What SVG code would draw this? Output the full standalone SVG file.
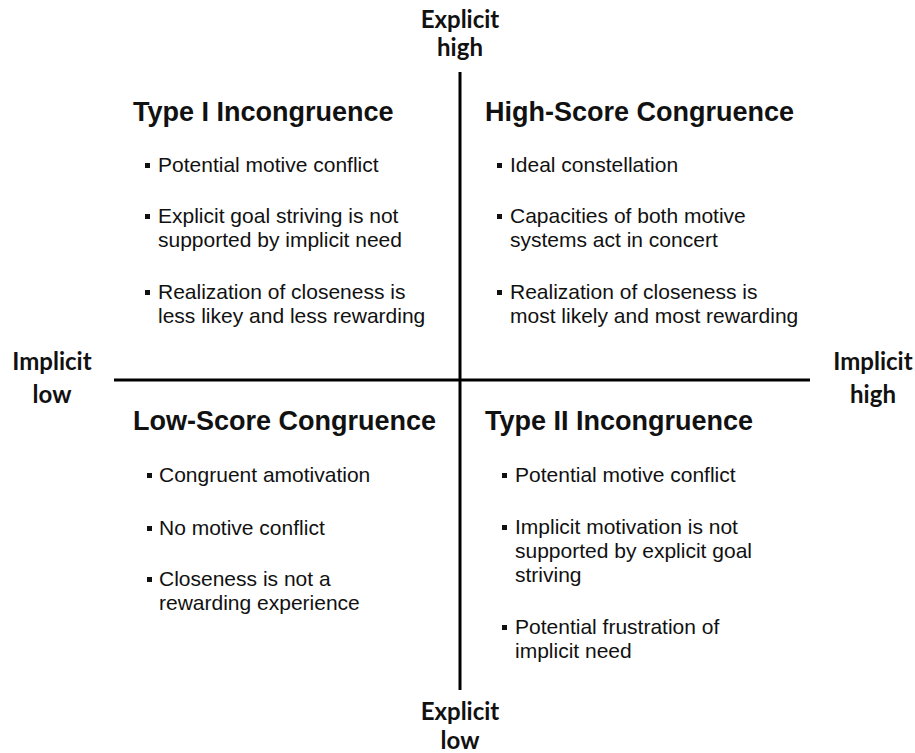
<svg xmlns="http://www.w3.org/2000/svg" width="915" height="753" viewBox="0 0 915 753">
<style>
.axis{stroke:#000;stroke-width:3;fill:none}
.lbl{font-family:Lato,"Open Sans",sans-serif;font-weight:700;font-size:24px;fill:#111;text-anchor:middle}
.ttl{font-family:"Liberation Sans",Arial,sans-serif;font-weight:700;font-size:27px;fill:#111}
.txt{font-family:"Liberation Sans",Arial,sans-serif;font-size:21px;fill:#111}
.bul{fill:#111}
</style>
<rect width="915" height="753" fill="#fff"/>
<!-- axes -->
<g id="axes">
<line class="axis" x1="460" y1="72" x2="460" y2="690"/>
<line class="axis" x1="114" y1="380" x2="810" y2="380"/>
</g>
<!-- axis labels -->
<g id="label-explicit-high"><text class="lbl" x="460" y="28">Explicit</text><text class="lbl" x="460" y="56">high</text></g>
<g id="label-explicit-low"><text class="lbl" x="460" y="720">Explicit</text><text class="lbl" x="460" y="749">low</text></g>
<g id="label-implicit-low"><text class="lbl" x="52" y="370">Implicit</text><text class="lbl" x="52" y="403">low</text></g>
<g id="label-implicit-high"><text class="lbl" x="873" y="370">Implicit</text><text class="lbl" x="873" y="403">high</text></g>

<!-- top-left quadrant -->
<g id="type1">
<text class="ttl" x="133" y="121">Type I Incongruence</text>
<rect class="bul" x="145" y="163" width="5" height="5"/>
<text class="txt" x="158" y="172">Potential motive conflict</text>
<rect class="bul" x="145" y="214" width="5" height="5"/>
<text class="txt" x="158" y="223">Explicit goal striving is not</text>
<text class="txt" x="158" y="247">supported by implicit need</text>
<rect class="bul" x="145" y="290" width="5" height="5"/>
<text class="txt" x="158" y="299">Realization of closeness is</text>
<text class="txt" x="158" y="323">less likey and less rewarding</text>
</g>

<!-- top-right quadrant -->
<g id="high-score">
<text class="ttl" x="485" y="121">High-Score Congruence</text>
<rect class="bul" x="497" y="163" width="5" height="5"/>
<text class="txt" x="510" y="172">Ideal constellation</text>
<rect class="bul" x="497" y="214" width="5" height="5"/>
<text class="txt" x="510" y="223">Capacities of both motive</text>
<text class="txt" x="510" y="247">systems act in concert</text>
<rect class="bul" x="497" y="290" width="5" height="5"/>
<text class="txt" x="510" y="299">Realization of closeness is</text>
<text class="txt" x="510" y="323">most likely and most rewarding</text>
</g>

<!-- bottom-left quadrant -->
<g id="low-score">
<text class="ttl" x="133" y="430">Low-Score Congruence</text>
<rect class="bul" x="147" y="473" width="5" height="5"/>
<text class="txt" x="159" y="482">Congruent amotivation</text>
<rect class="bul" x="147" y="526" width="5" height="5"/>
<text class="txt" x="159" y="535">No motive conflict</text>
<rect class="bul" x="147" y="577" width="5" height="5"/>
<text class="txt" x="159" y="586">Closeness is not a</text>
<text class="txt" x="159" y="610">rewarding experience</text>
</g>

<!-- bottom-right quadrant -->
<g id="type2">
<text class="ttl" x="485" y="430">Type II Incongruence</text>
<rect class="bul" x="502" y="473" width="5" height="5"/>
<text class="txt" x="515" y="482">Potential motive conflict</text>
<rect class="bul" x="502" y="525" width="5" height="5"/>
<text class="txt" x="515" y="534">Implicit motivation is not</text>
<text class="txt" x="515" y="558">supported by explicit goal</text>
<text class="txt" x="515" y="582">striving</text>
<rect class="bul" x="502" y="625" width="5" height="5"/>
<text class="txt" x="515" y="634">Potential frustration of</text>
<text class="txt" x="515" y="658">implicit need</text>
</g>
</svg>
